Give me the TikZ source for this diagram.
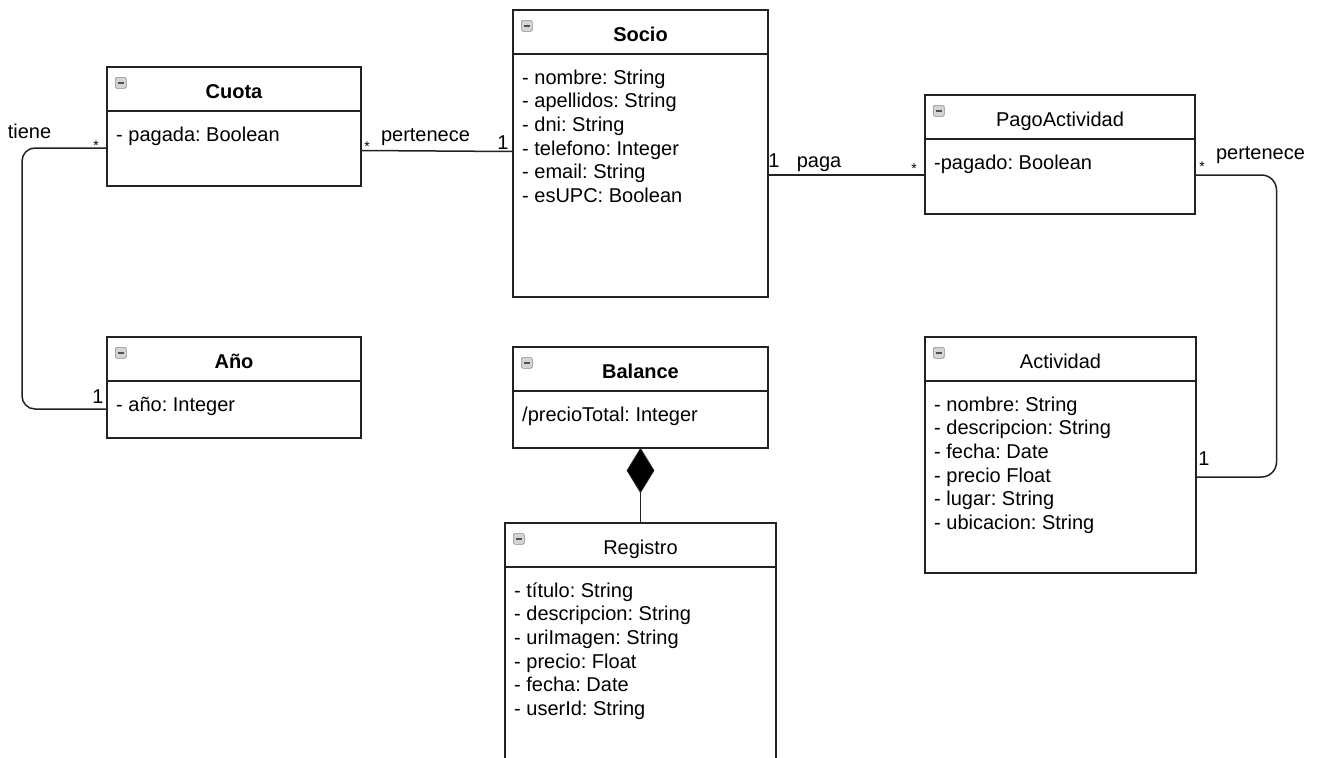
\documentclass[tikz,border=0pt]{standalone}
\usepackage{fontspec}
\setmainfont{Liberation Sans}
\usetikzlibrary{calc,shapes.geometric}
\frenchspacing
\definecolor{ink}{HTML}{222222}
\definecolor{iconfill}{HTML}{D4D4D4}
\definecolor{iconline}{HTML}{8A8A8A}
\definecolor{iconbar}{HTML}{505050}
\tikzset{
  classbox/.style={draw=ink, line width=1.3pt, anchor=north west, inner sep=0pt, outer sep=0pt},
  classtitle/.style={anchor=base, inner sep=0pt},
  attr/.style={anchor=base west, inner sep=0pt, font=\fontsize{20}{24}\selectfont},
  divider/.style={draw=ink, line width=1.3pt},
  foldicon/.style={draw=iconline, fill=iconfill, rounded corners=1.5pt, line width=0.6pt,
    minimum width=11pt, minimum height=11pt, inner sep=0pt, anchor=north west},
  assoc/.style={draw=ink, line width=1.5pt, rounded corners=13pt},
  lbl/.style={anchor=base, inner sep=0pt, font=\fontsize{20}{24}\selectfont},
  star/.style={anchor=base, inner sep=0pt, font=\fontsize{14}{16}\selectfont},
  compo/.style={diamond, draw=ink, fill=black, line width=1pt, aspect=0.6,
    minimum width=27pt, minimum height=44pt, inner sep=0pt, anchor=north},
}
% \umlclass{name}{x}{y}{width}{height}{title weight}{title}{attributes}
\newcommand\umlclass[8]{%
  \node[classbox, minimum width=#4pt, minimum height=#5pt] (#1) at (#2,-#3) {};
  \draw[divider] ($(#1.north west)+(0,-44)$) -- ($(#1.north east)+(0,-44)$);
  \node[foldicon] (#1-icon) at ($(#1.north west)+(8,-10)$) {};
  \draw[iconbar, line width=1.6pt] ($(#1-icon.west)+(2.5,0)$) -- ($(#1-icon.east)+(-2.5,0)$);
  \node[classtitle, font=\fontsize{20}{24}\selectfont#6] (#1-title) at ($(#1.north)+(0,-31)$) {#7};
  \foreach \a [count=\i] in {#8}
    \node[attr] (#1-a\i) at ($(#1.north west)+(9,{-74-23.7*(\i-1)})$) {\a};
}
\begin{document}
\begin{tikzpicture}[x=1pt,y=1pt]
  \useasboundingbox (0,0) rectangle (1318,-758);
  \fill[white] (0,0) rectangle (1318,-758);
  \clip (0,0) rectangle (1318,-758);

  % classes
  \umlclass{cuota}{107}{67}{254}{119}{\bfseries}{Cuota}{- pagada: Boolean}
  \umlclass{socio}{513}{10}{255}{287}{\bfseries}{Socio}{- nombre: String, - apellidos: String, - dni: String, - telefono: Integer, - email: String, - esUPC: Boolean}
  \umlclass{pago}{925}{95}{270}{119}{}{PagoActividad}{-pagado: Boolean}
  \umlclass{ano}{107}{337}{254}{101}{\bfseries}{Año}{- año: Integer}
  \umlclass{balance}{513}{347}{255}{101}{\bfseries}{Balance}{/precioTotal: Integer}
  \umlclass{registro}{505}{523}{271}{260}{}{Registro}{- título: String, - descripcion: String, - uriImagen: String, - precio: Float, - fecha: Date, - userId: String}
  \umlclass{actividad}{925}{337}{271}{236}{}{Actividad}{- nombre: String, - descripcion: String, - fecha: Date, - precio Float, - lugar: String, - ubicacion: String}

  % connection points on the class borders
  \coordinate (cuota-w) at ($(cuota.north west)+(0,-81)$);
  \coordinate (ano-w) at ($(ano.north west)+(0,-72)$);
  \coordinate (cuota-e) at ($(cuota.north east)+(0,-83.5)$);
  \coordinate (socio-w) at ($(socio.north west)+(0,-141.5)$);
  \coordinate (socio-e) at ($(socio.north east)+(0,-165)$);
  \coordinate (pago-w) at ($(pago.north west)+(0,-80)$);
  \coordinate (pago-e) at ($(pago.north east)+(0,-80)$);
  \coordinate (actividad-e) at ($(actividad.north east)+(0,-140)$);

  % associations
  \draw[assoc] (cuota-w) -| ($(ano-w)+(-85,0)$) -- (ano-w);
  \draw[assoc] (cuota-e) -- (socio-w);
  \draw[assoc] (socio-e) -- (pago-w);
  \draw[assoc, rounded corners=15pt] (pago-e) -| ($(actividad-e)+(80.5,0)$) -- (actividad-e);

  % composition Balance <>-- Registro
  \node[compo] (compo-tip) at (balance.south) {};
  \draw[assoc] (compo-tip.south) -- (registro.north);

  % association labels and multiplicities
  \node[lbl] (tiene) at (29.5,-138) {tiene};
  \node[star] (m-cuota-w) at (96,-150) {*};
  \node[lbl] (m-ano) at (98,-403) {1};
  \node[star] (m-cuota-e) at (367,-151) {*};
  \node[lbl] (pert-1) at (425.5,-141.5) {pertenece};
  \node[lbl] (m-socio-w) at (503,-149.5) {1};
  \node[lbl] (m-socio-e) at (774,-167) {1};
  \node[lbl] (paga) at (819,-167) {paga};
  \node[star] (m-pago-w) at (914,-173) {*};
  \node[star] (m-pago-e) at (1202,-171) {*};
  \node[lbl] (pert-2) at (1260.5,-159) {pertenece};
  \node[lbl] (m-actividad) at (1204,-465) {1};
\end{tikzpicture}
\end{document}
